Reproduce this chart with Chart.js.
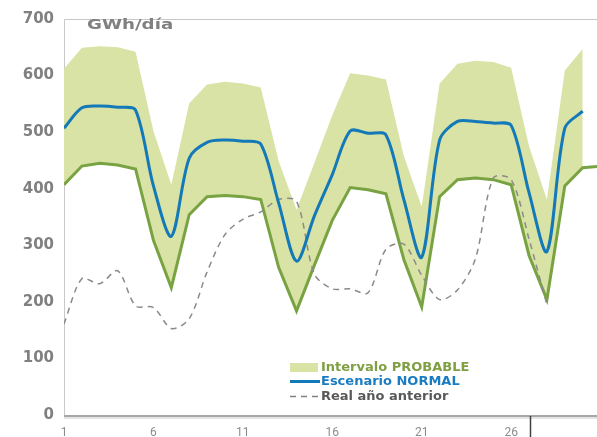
<!DOCTYPE html>
<html>
<head>
<meta charset="utf-8">
<script src="https://cdn.jsdelivr.net/npm/chart.js@4/dist/chart.umd.min.js"></script>
<style>
  html, body { margin: 0; padding: 0; background: #fff; }
  #grafico { display: block; }
</style>
</head>
<body>
<canvas id="grafico" width="597" height="437"></canvas>
<script>
// dias del mes
const dias = [1,2,3,4,5,6,7,8,9,10,11,12,13,14,15,16,17,18,19,20,21,22,23,24,25,26,27,28,29,30,31]
const xTicks = [1, 6, 11, 16, 21, 26]

// GWh/dia
const superior = [612,649,652,650,642,502,407,551,584,589,586,579,449,363,446,530,604,600,593,458,368,586,621,626,624,614,475,381,609,647]
const inferior = [407,440,445,442,435,309,225,354,386,388,386,381,261,184,265,344,402,398,391,275,191,386,416,419,416,407,282,204,405,437,440]
const normal = [507,543,546,544,539,405,316,454,482,486,484,479,375,272,352,425,502,498,495,381,279,486,519,519,516,512,393,289,507,537]
const anterior = [161,241,232,255,193,190,153,170,253,319,346,359,381,378,249,223,223,216,293,302,247,204,221,276,419,416,311,195]

const pts = arr => arr.map((v, i) => ({ x: dias[i], y: v }))

const gris = '#808080'
const fuente = '"DejaVu Sans", Verdana, sans-serif'

const extras = {
    id: 'extras',
    beforeDatasetsDraw(chart) {
        const { ctx, chartArea: a } = chart
        ctx.save()
        ctx.strokeStyle = '#c8c8c8'
        ctx.lineWidth = 1
        ctx.beginPath()
        ctx.moveTo(a.left + 0.5, a.bottom)
        ctx.lineTo(a.left + 0.5, a.top + 0.5)
        ctx.lineTo(a.right, a.top + 0.5)
        ctx.stroke()
        ctx.restore()
    },
    afterDraw(chart) {
        const { ctx, chartArea: a, scales } = chart
        ctx.save()
        // eje inferior con sombra
        ctx.strokeStyle = '#e4e4e4'
        ctx.lineWidth = 2
        ctx.beginPath(); ctx.moveTo(a.left, a.bottom + 3); ctx.lineTo(a.right, a.bottom + 3); ctx.stroke()
        ctx.strokeStyle = '#a6a6a6'
        ctx.lineWidth = 2
        ctx.beginPath(); ctx.moveTo(a.left, a.bottom + 1); ctx.lineTo(a.right, a.bottom + 1); ctx.stroke()

        // marca vertical
        const xm = Math.round(scales.x.getPixelForValue(27.05)) + 0.5
        ctx.strokeStyle = '#404040'
        ctx.lineWidth = 1.5
        ctx.beginPath(); ctx.moveTo(xm, a.bottom + 1); ctx.lineTo(xm, 437); ctx.stroke()

        // titulo del eje
        ctx.fillStyle = gris
        ctx.textBaseline = 'middle'
        ctx.textAlign = 'left'
        ctx.save()
        ctx.translate(87, 25)
        ctx.scale(1.3, 1)
        ctx.font = 'bold 14px ' + fuente
        ctx.fillText('GWh/día', 0, 0)
        ctx.restore()

        // leyenda
        const lx = 290, tx = 321
        ctx.font = 'bold 13px ' + fuente
        ctx.fillStyle = '#d8e3a5'
        ctx.fillRect(lx, 363, 28, 9)
        ctx.fillStyle = '#7f9f43'
        ctx.fillText('Intervalo PROBABLE', tx, 368)

        ctx.strokeStyle = '#1479b8'
        ctx.lineWidth = 3
        ctx.beginPath(); ctx.moveTo(lx, 381.5); ctx.lineTo(lx + 30, 381.5); ctx.stroke()
        ctx.fillStyle = '#1b7cc1'
        ctx.fillText('Escenario NORMAL', tx, 382)

        ctx.strokeStyle = '#808080'
        ctx.lineWidth = 1.5
        ctx.setLineDash([6, 5])
        ctx.beginPath(); ctx.moveTo(lx, 396.5); ctx.lineTo(lx + 30, 396.5); ctx.stroke()
        ctx.setLineDash([])
        ctx.fillStyle = '#595959'
        ctx.fillText('Real año anterior', tx, 397)
        ctx.restore()
    }
}

new Chart(document.getElementById('grafico'), {
    type: 'line',
    data: {
        datasets: [{
            label: 'Intervalo PROBABLE',
            data: pts(superior),
            borderWidth: 0,
            pointRadius: 0,
            backgroundColor: '#d8e3a5',
            fill: '+1',
            tension: 0,
            order: 4
        }, {
            label: 'inferior',
            data: pts(inferior),
            borderColor: '#79a342',
            borderWidth: 3,
            pointRadius: 0,
            fill: false,
            tension: 0,
            order: 3
        }, {
            label: 'Escenario NORMAL',
            data: pts(normal),
            borderColor: '#1479b8',
            borderWidth: 3,
            pointRadius: 0,
            fill: false,
            tension: 0.3,
            order: 1
        }, {
            label: 'Real año anterior',
            data: pts(anterior),
            borderColor: '#8a8a8a',
            borderWidth: 1.5,
            borderDash: [6, 5],
            pointRadius: 0,
            fill: false,
            tension: 0.3,
            order: 2
        }]
    },
    options: {
        responsive: false,
        animation: false,
        layout: { padding: { top: 14, right: 0, left: 0, bottom: 0 } },
        plugins: {
            legend: { display: false },
            tooltip: { enabled: false }
        },
        scales: {
            x: {
                type: 'linear',
                min: 1,
                max: 30.8,
                afterBuildTicks: s => { s.ticks = xTicks.map(v => ({ value: v })) },
                afterFit: s => { s.height = 22 },
                grid: { display: false, drawTicks: false },
                border: { display: false },
                ticks: {
                    color: '#8c8c8c',
                    font: { family: 'Roboto, "Liberation Sans", sans-serif', size: 12 },
                    padding: 11,
                    maxRotation: 0,
                    autoSkip: false
                }
            },
            y: {
                min: 0,
                max: 700,
                afterFit: s => { s.width = 64 },
                grid: { display: false, drawTicks: false },
                border: { display: false },
                ticks: {
                    stepSize: 100,
                    color: gris,
                    padding: 10,
                    font: { family: fuente, size: 15, weight: 'bold' }
                }
            }
        }
    },
    plugins: [extras]
});
</script>
</body>
</html>
